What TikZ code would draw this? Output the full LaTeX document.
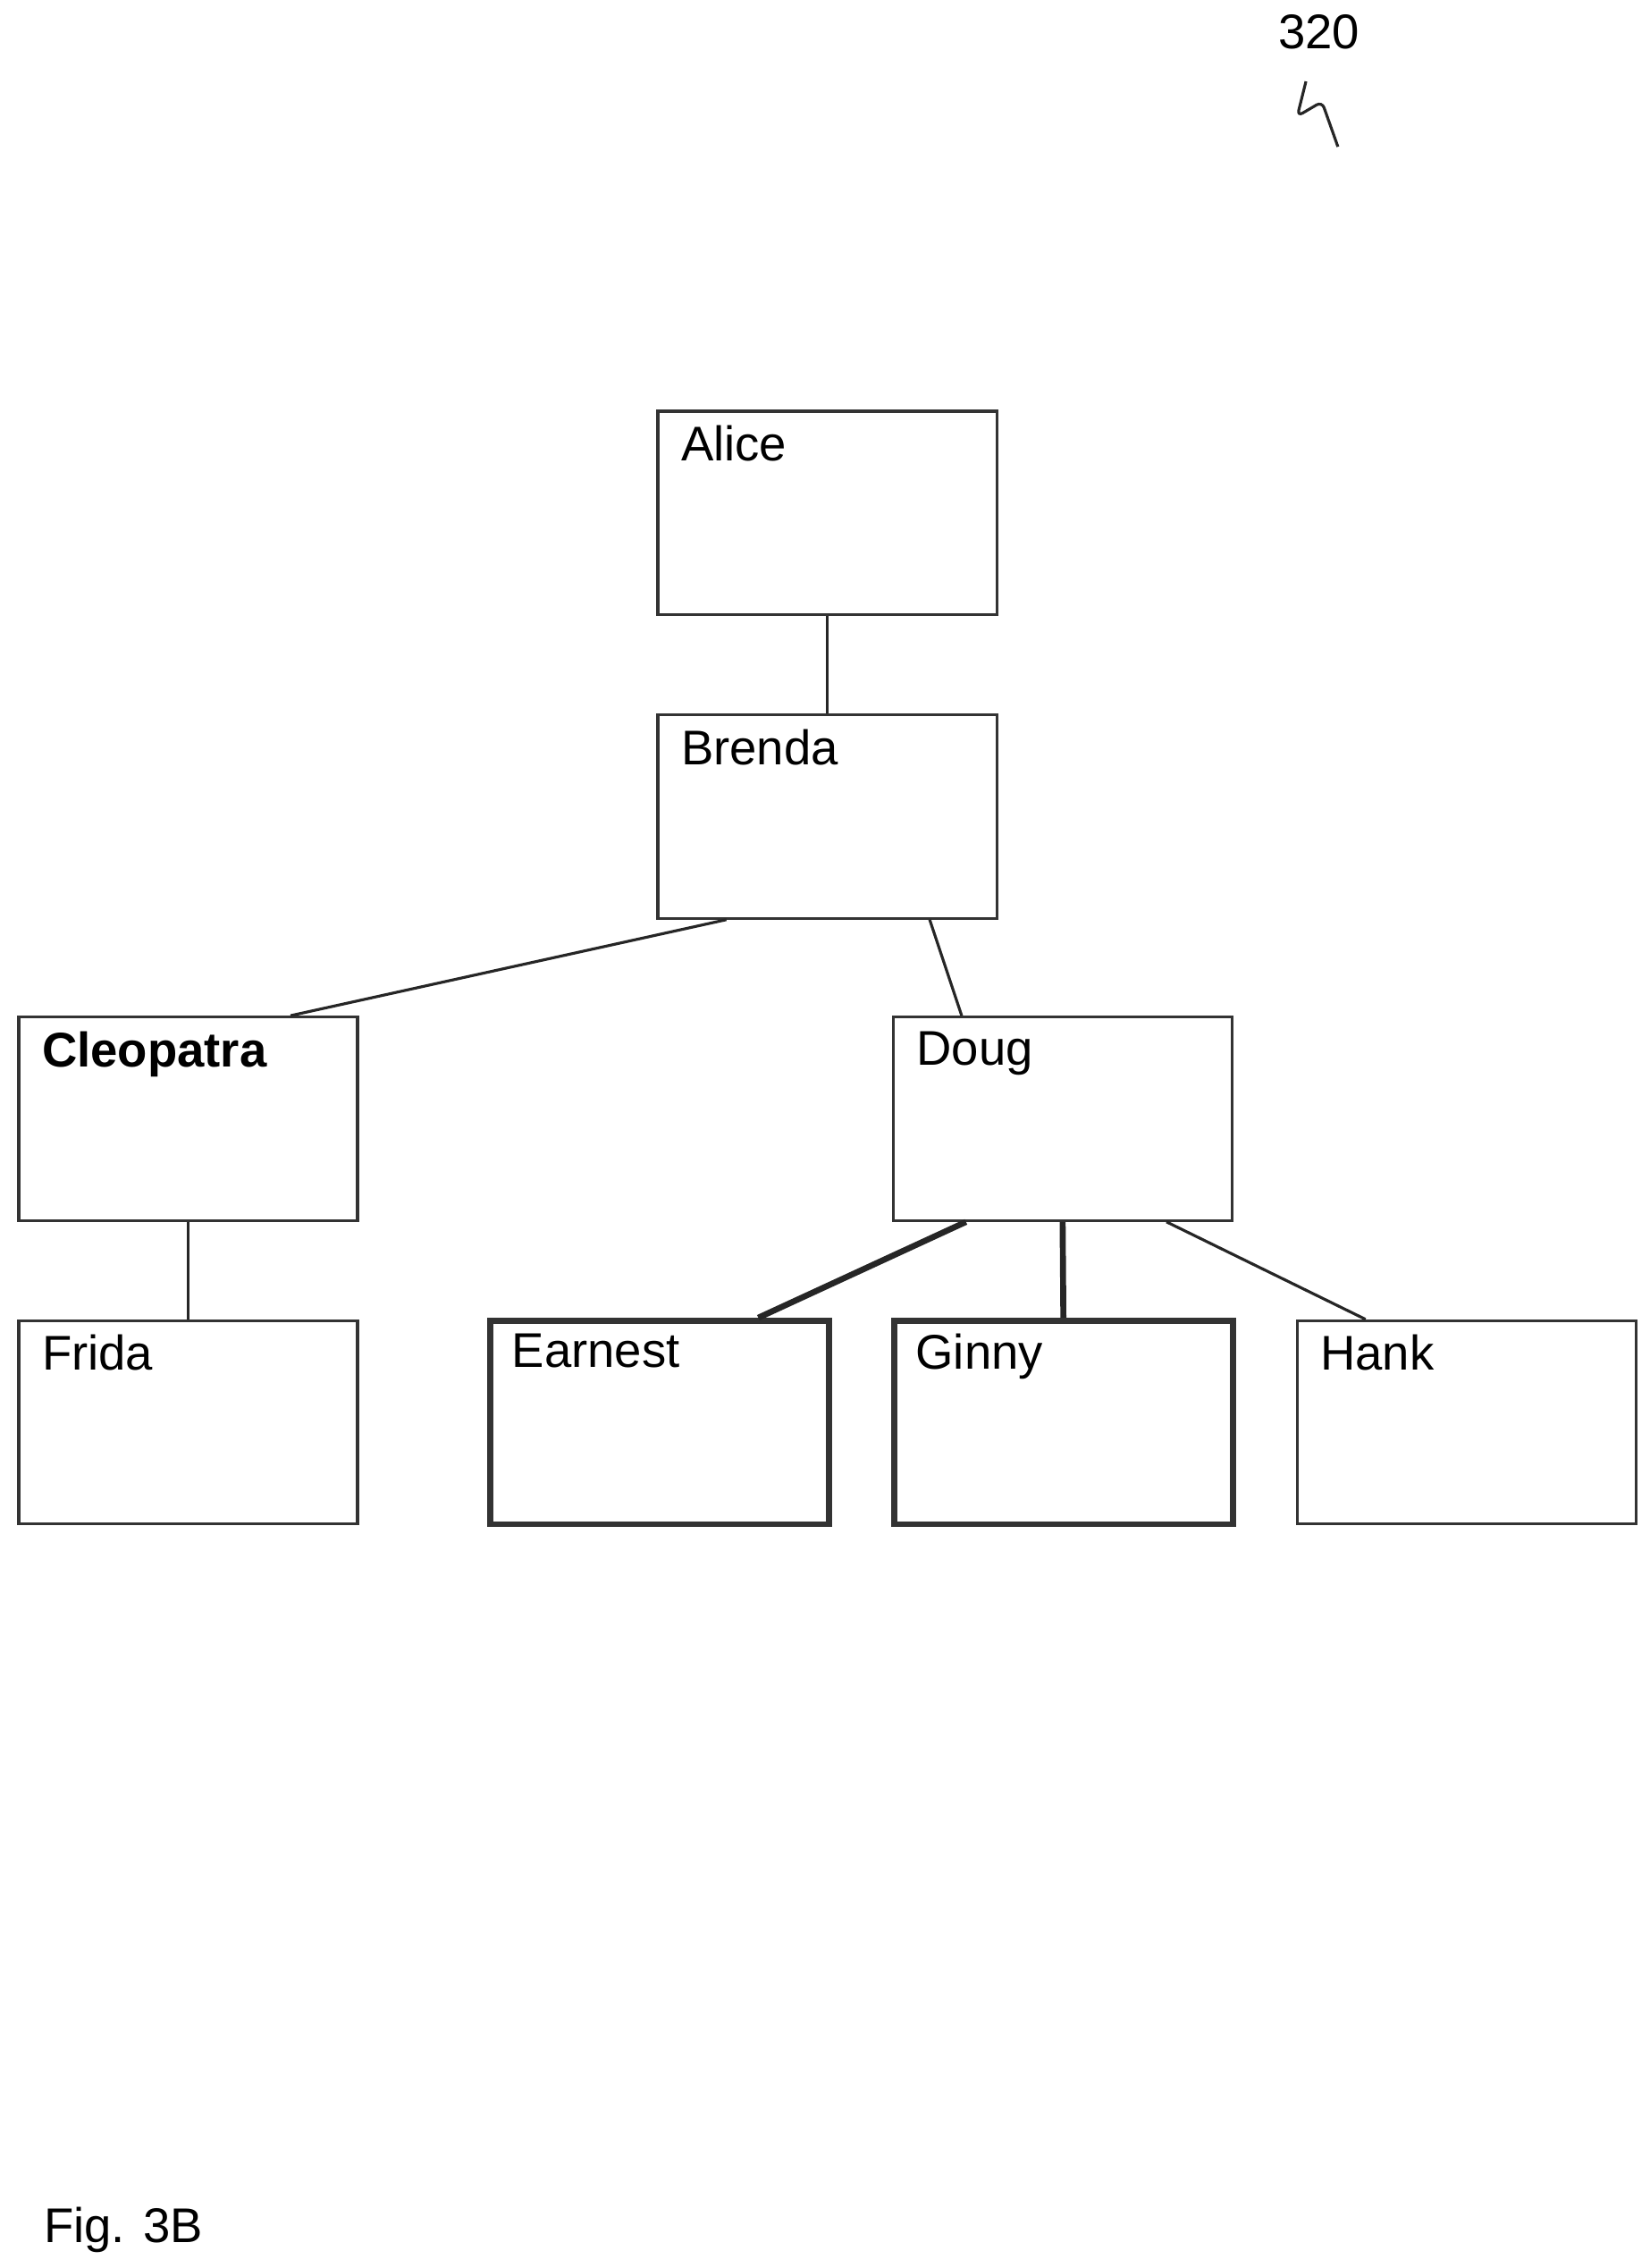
\documentclass[tikz,border=0pt]{standalone}
\usepackage{fontspec}
\setmainfont{Liberation Sans}
\usetikzlibrary{calc}
\tikzstyle{person} = [rectangle, minimum width=3.79cm, minimum height=2.275cm, draw=black!80, line width=0.9pt, inner sep=0pt]
\tikzstyle{chosen} = [person, line width=1.9pt]
\tikzstyle{link} = [draw=black!85, line width=0.9pt]
\tikzstyle{strong} = [draw=black!85, line width=1.9pt]

\begin{document}
\begin{tikzpicture}[x=0.01625cm, y=-0.01625cm, font=\fontsize{15.5}{18}\selectfont,
    every label/.style={anchor=north west, inner sep=0pt, xshift=0.27cm, yshift=-0.17cm}]
    \useasboundingbox (0,0) rectangle (1135.4,1561);
    \node (alice) [person, label={north west:Alice}] at (569.5,353) {};
    \node (brenda) [person, label={north west:Brenda}] at (569.5,562) {};
    \node (cleo) [person, label={north west:\textbf{Cleopatra}}] at (129.5,770) {};
    \node (doug) [person, label={north west:Doug}] at (731.5,770) {};
    \node (frida) [person, label={north west:Frida}] at (129.5,979) {};
    \node (earnest) [chosen, label={north west:Earnest}] at (454,979) {};
    \node (ginny) [chosen, label={north west:Ginny}] at (732,979) {};
    \node (hank) [person, label={north west:Hank}] at (1009.5,979) {};

    \draw [link] (alice) -- (brenda);
    \draw [link] ($(brenda.south)+(-69.5,0)$) -- ($(cleo.north)+(70.5,0)$);
    \draw [link] ($(brenda.south)+(70.5,0)$) -- ($(doug.north)+(-69.5,0)$);
    \draw [link] (cleo) -- (frida);
    \draw [strong] ($(doug.south)+(-66.5,0)$) -- ($(earnest.north)+(68,0)$);
    \draw [strong] (doug.south) -- (ginny.north);
    \draw [link] ($(doug.south)+(71.5,0)$) -- ($(hank.north)+(-69.5,0)$);

    \node (ref) at (908,22) {320};
    \draw [link, rounded corners=2pt] (899,56) -- (893,80) -- (910,70) -- (921,101);
    \node (fig) at (85,1535) {Fig. 3B};
\end{tikzpicture}
\end{document}
